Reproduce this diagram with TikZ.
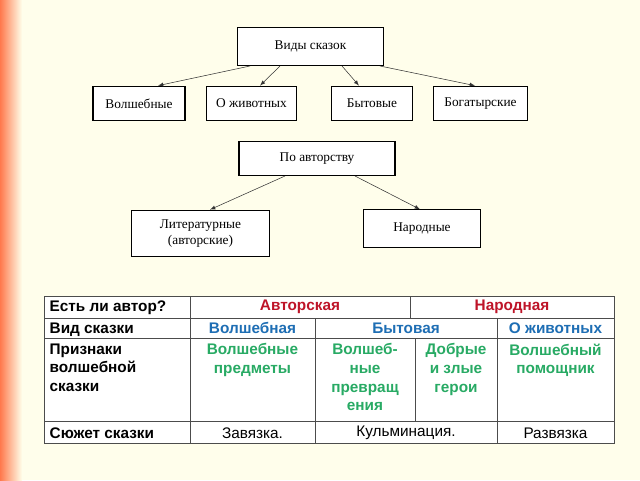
\documentclass[tikz,border=0pt]{standalone}
\usepackage{fontspec}
\setmainfont{Liberation Serif}
\newfontfamily\tsans{Liberation Sans}
\begin{document}
\begin{tikzpicture}[x=0.75pt,y=-0.75pt,
  bx/.style={draw,thick,fill=white,inner sep=0pt,font=\fontsize{10}{12}\selectfont},
  arr/.style={-latex,thin,gray!40!black},
  hd/.style={font=\tsans\bfseries\fontsize{11.5}{12}\selectfont,anchor=north west,align=left},
  cl/.style={font=\tsans\bfseries\fontsize{11.5}{12}\selectfont,align=center},
  pl/.style={font=\tsans\fontsize{11.5}{12}\selectfont}]
\definecolor{rd}{RGB}{190,20,40}
\definecolor{bl}{RGB}{30,110,180}
\definecolor{gr}{RGB}{40,170,100}
\useasboundingbox (0,0) rectangle (640,480);
\fill[white!92!yellow] (0,0) rectangle (640,480);
\shade[left color=orange!50!red!70!white,right color=white!92!yellow] (0,0) rectangle (22,480);
% top diagram
\node[bx,minimum width=110pt,minimum height=29pt] (vid) at (310.5,46.5) {Виды сказок};
\node[bx,minimum width=69pt,minimum height=26pt] (v1) at (139,103.5) {Волшебные};
\node[bx,minimum width=68pt,minimum height=26pt] (v2) at (251.5,103.5) {О животных};
\node[bx,minimum width=61pt,minimum height=26pt] (v3) at (372,103.5) {Бытовые};
\node[bx,minimum width=70pt,minimum height=26pt] (v4) at (480.5,103.5) {Богатырские};
\node[bx,minimum width=117pt,minimum height=26pt] (pa) at (317,158.5) {По авторству};
\node[bx,minimum width=104pt,minimum height=35pt,align=center] (lit) at (200.5,233.5) {Литературные\\(авторские)};
\node[bx,minimum width=88pt,minimum height=28pt] (nar) at (422,228.5) {Народные};
\coordinate (s1) at (250,66); \coordinate (s2) at (280,66);
\coordinate (s3) at (342,66); \coordinate (s4) at (380,66);
\draw[arr] (s1) -- (v1.north -| 158,0);
\draw[arr] (s2) -- (v2.north -| 260,0);
\draw[arr] (s3) -- (v3.north -| 359,0);
\draw[arr] (s4) -- (v4.north -| 475,0);
\coordinate (p1) at (285,176); \coordinate (p2) at (355,176);
\draw[arr] (p1) -- (lit.north -| 210,0);
\draw[arr] (p2) -- (nar.north -| 420,0);
% table
\fill[white] (44,296) rectangle (614,443);
\draw[thin,gray!60!black] (44,296) rectangle (614,443);
\foreach \y in {318,338,421} \draw[thin,gray!60!black] (44,\y) -- (614,\y);
\draw[thin,gray!60!black] (190,296) -- (190,443);
\draw[thin,gray!60!black] (410,296) -- (410,318);
\draw[thin,gray!60!black] (315,318) -- (315,443);
\draw[thin,gray!60!black] (497,318) -- (497,443);
\draw[thin,gray!60!black] (415,338) -- (415,421);
\node[hd] (h1) at (45,296) {Есть ли автор?};
\node[hd] (h2) at (45,318) {Вид сказки};
\node[hd,font=\tsans\bfseries\fontsize{11.5}{14}\selectfont] (h3) at (45,339) {Признаки\\волшебной\\сказки};
\node[hd] (h4) at (45,423) {Сюжет сказки};
\node[cl,text=rd] (a1) at (300,307) {Авторская};
\node[cl,text=rd] (a2) at (512,307) {Народная};
\node[cl,text=bl] (b1) at (252.5,328) {Волшебная};
\node[cl,text=bl] (b2) at (406,328) {Бытовая};
\node[cl,text=bl] (b3) at (555.5,328) {О животных};
\node[cl,text=gr,anchor=north,font=\tsans\bfseries\fontsize{11.5}{14}\selectfont] (c1) at (252.5,339) {Волшебные\\предметы};
\node[cl,text=gr,anchor=north,font=\tsans\bfseries\fontsize{11.5}{14}\selectfont] (c2) at (365,339) {Волшеб-\\ные\\превращ\\ения};
\node[cl,text=gr,anchor=north,font=\tsans\bfseries\fontsize{11.5}{14}\selectfont] (c3) at (456,339) {Добрые\\и злые\\герои};
\node[cl,text=gr,anchor=north,font=\tsans\bfseries\fontsize{11.5}{14}\selectfont] (c4) at (555.5,339) {Волшебный\\помощник};
\node[pl] (d1) at (252.5,433) {Завязка.};
\node[pl] (d2) at (406,433) {Кульминация.};
\node[pl] (d3) at (555.5,433) {Развязка};
\end{tikzpicture}
\end{document}
